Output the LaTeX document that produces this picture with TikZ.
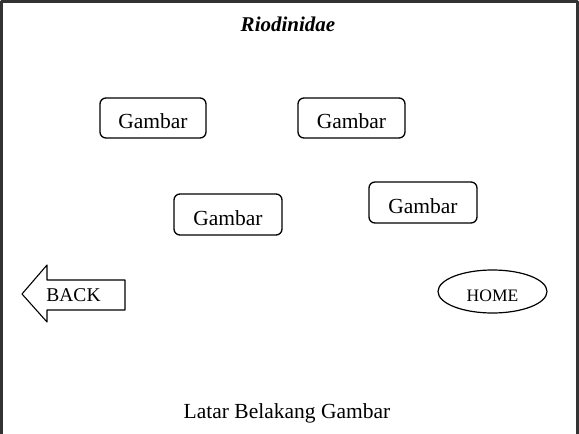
\documentclass[tikz,border=0pt]{standalone}
\usepackage{fontspec}
\setmainfont{Liberation Serif}
\usepackage{tikz}
\usetikzlibrary{positioning,shapes.geometric}

\begin{document}
\begin{tikzpicture}[x=1pt, y=-1pt, line join=round,
    gambar/.style={draw, rounded corners=6pt, line width=1.3pt, minimum width=106pt, minimum height=40pt, inner sep=0pt, text height=21pt, text depth=0pt, font=\fontsize{21.5}{24}\selectfont}]
      \useasboundingbox (0,0) rectangle (579,434);
      % page frame (open at the bottom)
      \draw[line width=2.2pt, black!80] (1.5,434) -- (1.5,1.5) -- (577.5,1.5) -- (577.5,434);
      \node[font=\fontsize{21}{24}\selectfont\bfseries\itshape] (title) at (288,24) {Riodinidae};
      \node[gambar] (g1) at (153,118) {Gambar};
      \node[gambar, minimum width=107pt] (g2) at (351.5,118) {Gambar};
      \node[gambar, minimum width=108pt, minimum height=41pt] (g3) at (228,214.5) {Gambar};
      \node[gambar, minimum width=108pt, minimum height=41pt] (g4) at (423,202.5) {Gambar};
      % back arrow
      \draw[line width=1.1pt] (22,294) -- (47,265) -- (47,280) -- (125,280) -- (125,310) -- (47,310) -- (47,322) -- cycle;
      \node[font=\fontsize{19.5}{22}\selectfont] (back) at (73.5,295) {BACK};
      \node[draw, ellipse, line width=1.2pt, minimum width=109pt, minimum height=43pt, inner sep=0pt, text height=19pt, text depth=0pt, font=\fontsize{17.5}{20}\selectfont] (home) at (492.5,291.5) {HOME};
      \node[font=\fontsize{21.5}{24}\selectfont] (bg) at (287,413) {Latar Belakang Gambar};
    \end{tikzpicture}
\end{document}
